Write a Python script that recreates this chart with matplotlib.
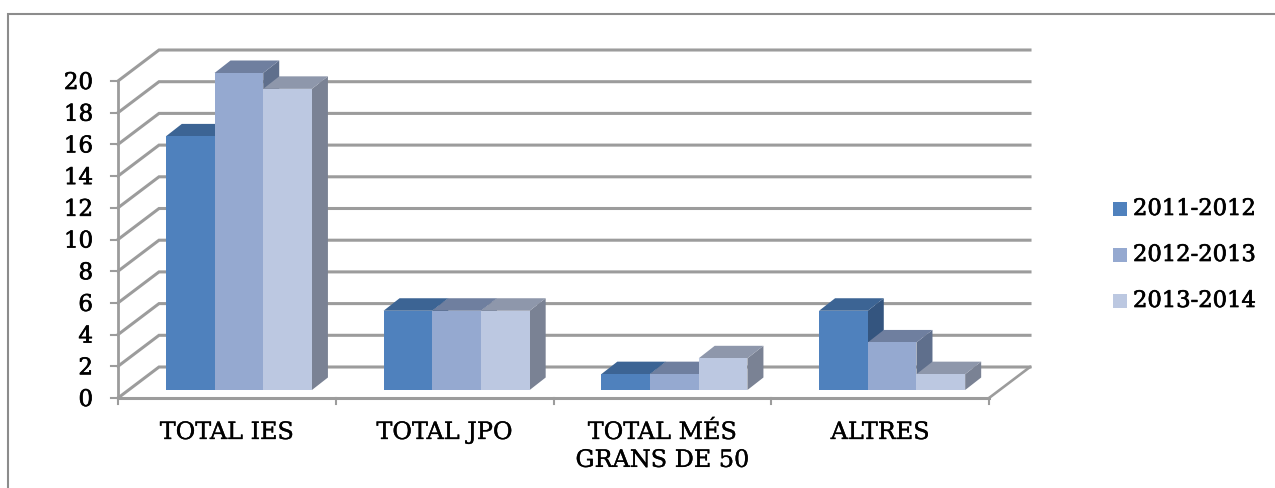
import matplotlib
matplotlib.use('Agg')
import matplotlib.pyplot as plt
import matplotlib.patheffects as pe
from matplotlib.patches import Polygon, Rectangle

categories = ['TOTAL IES', 'TOTAL JPO', 'TOTAL MÉS\nGRANS DE 50', 'ALTRES']
series_names = ['2011-2012', '2012-2013', '2013-2014']
values_2011 = [16, 5, 1, 5]
values_2012 = [20, 5, 1, 3]
values_2013 = [19, 5, 2, 1]
y_ticks = [0, 2, 4, 6, 8, 10, 12, 14, 16, 18, 20]

front_colors = ['#4f81bd', '#95a9d0', '#bcc8e1']
top_colors = ['#3c6494', '#6f7f9f', '#8e97ab']
side_colors = ['#34557f', '#5f6f8c', '#7a8294']
grid_color = '#9c9c9c'

W, H = 1275, 488
plt.rcParams['font.family'] = ['DejaVu Serif']
heavy = [pe.withStroke(linewidth=0.5, foreground='black')]
light = [pe.withStroke(linewidth=0.25, foreground='black')]

fig = plt.figure(figsize=(W / 100, H / 100), dpi=100)
fig.add_artist(Rectangle((8 / W, -0.01), 1.1, (H - 14) / H + 0.01, transform=fig.transFigure,
                         fill=False, ec='#8c8c8c', lw=1.5))

# axes run from the front left corner to the back right corner of the 3d box
px_left, px_right, px_bottom, px_top = 118, 1031, 398, 50
ax = fig.add_axes([px_left / W, 1 - px_bottom / H, (px_right - px_left) / W, (px_bottom - px_top) / H])
ax.axis('off')
ax.patch.set_alpha(0)

per_cat = (989 - 118) / 4  # px for one category
per_unit = (398 - 81) / 20  # px for one y unit
ax.set_xlim(0, (px_right - px_left) / per_cat)
ax.set_ylim(0, (px_bottom - px_top) / per_unit)


def dx(px):
    return px / per_cat


def dy(px):
    return px / per_unit


n_cat = len(categories)
wall_x, wall_y = dx(41), dy(31)

# gridlines, wall part and back part
for t in y_ticks:
    ax.plot([0, wall_x, n_cat + wall_x], [t, t + wall_y, t + wall_y], color=grid_color, lw=2.2,
            solid_joinstyle='miter', clip_on=False, zorder=1)
    ax.plot([-dx(7), 0], [t, t], color=grid_color, lw=1.5, clip_on=False, zorder=1)
    ax.text(-dx(25), t - dy(2), str(t), ha='right', va='center', fontsize=16.5, color='black',
            path_effects=heavy)

# floor and axes
ax.plot([0, 0], [0, 20], color=grid_color, lw=2, zorder=2, clip_on=False)
ax.plot([0, n_cat], [0, 0], color=grid_color, lw=2.2, zorder=2, clip_on=False)
ax.plot([n_cat, n_cat + wall_x], [0, wall_y], color=grid_color, lw=1.9, zorder=2, clip_on=False)
for i in range(n_cat + 1):
    ax.plot([i, i], [0, -dy(6)], color=grid_color, lw=1.5, clip_on=False, zorder=2)

# bars
bar_w = dx(48.7)
off_x, off_y = dx(12), dy(8)
depth_x, depth_y = dx(16), dy(12.5)
all_values = [values_2011, values_2012, values_2013]
for c in range(n_cat):
    for s in range(3):
        v = all_values[s][c]
        x0 = c + 0.5 + off_x + (s - 1.5) * bar_w
        x1 = x0 + bar_w
        y0 = off_y
        y1 = off_y + v
        z = 5 + c * 10 + s
        ax.add_patch(Rectangle((x0, y0), bar_w, v, fc=front_colors[s], ec='none', zorder=z + 0.3))
        ax.add_patch(Polygon([(x0, y1), (x1, y1), (x1 + depth_x, y1 + depth_y), (x0 + depth_x, y1 + depth_y)],
                             fc=top_colors[s], ec='none', zorder=z + 0.2))
        ax.add_patch(Polygon([(x1, y0), (x1, y1), (x1 + depth_x, y1 + depth_y), (x1 + depth_x, y0 + depth_y)],
                             fc=side_colors[s], ec='none', zorder=z + 0.1))
    ax.text(c + 0.5, -dy(23), categories[c], ha='center', va='top', fontsize=17.2,
            color='black', linespacing=1.27, multialignment='center', path_effects=light)

# legend
for s, name in enumerate(series_names):
    y_px = 209 + s * 46
    fig.add_artist(Rectangle((1113 / W, 1 - (y_px + 7) / H), 14 / W, 14 / H, transform=fig.transFigure,
                             fc=front_colors[s], ec='none'))
    fig.text(1133 / W, 1 - y_px / H, name, ha='left', va='center', fontsize=16.3, color='black',
             path_effects=heavy)

fig.savefig('out.png', dpi=100)
